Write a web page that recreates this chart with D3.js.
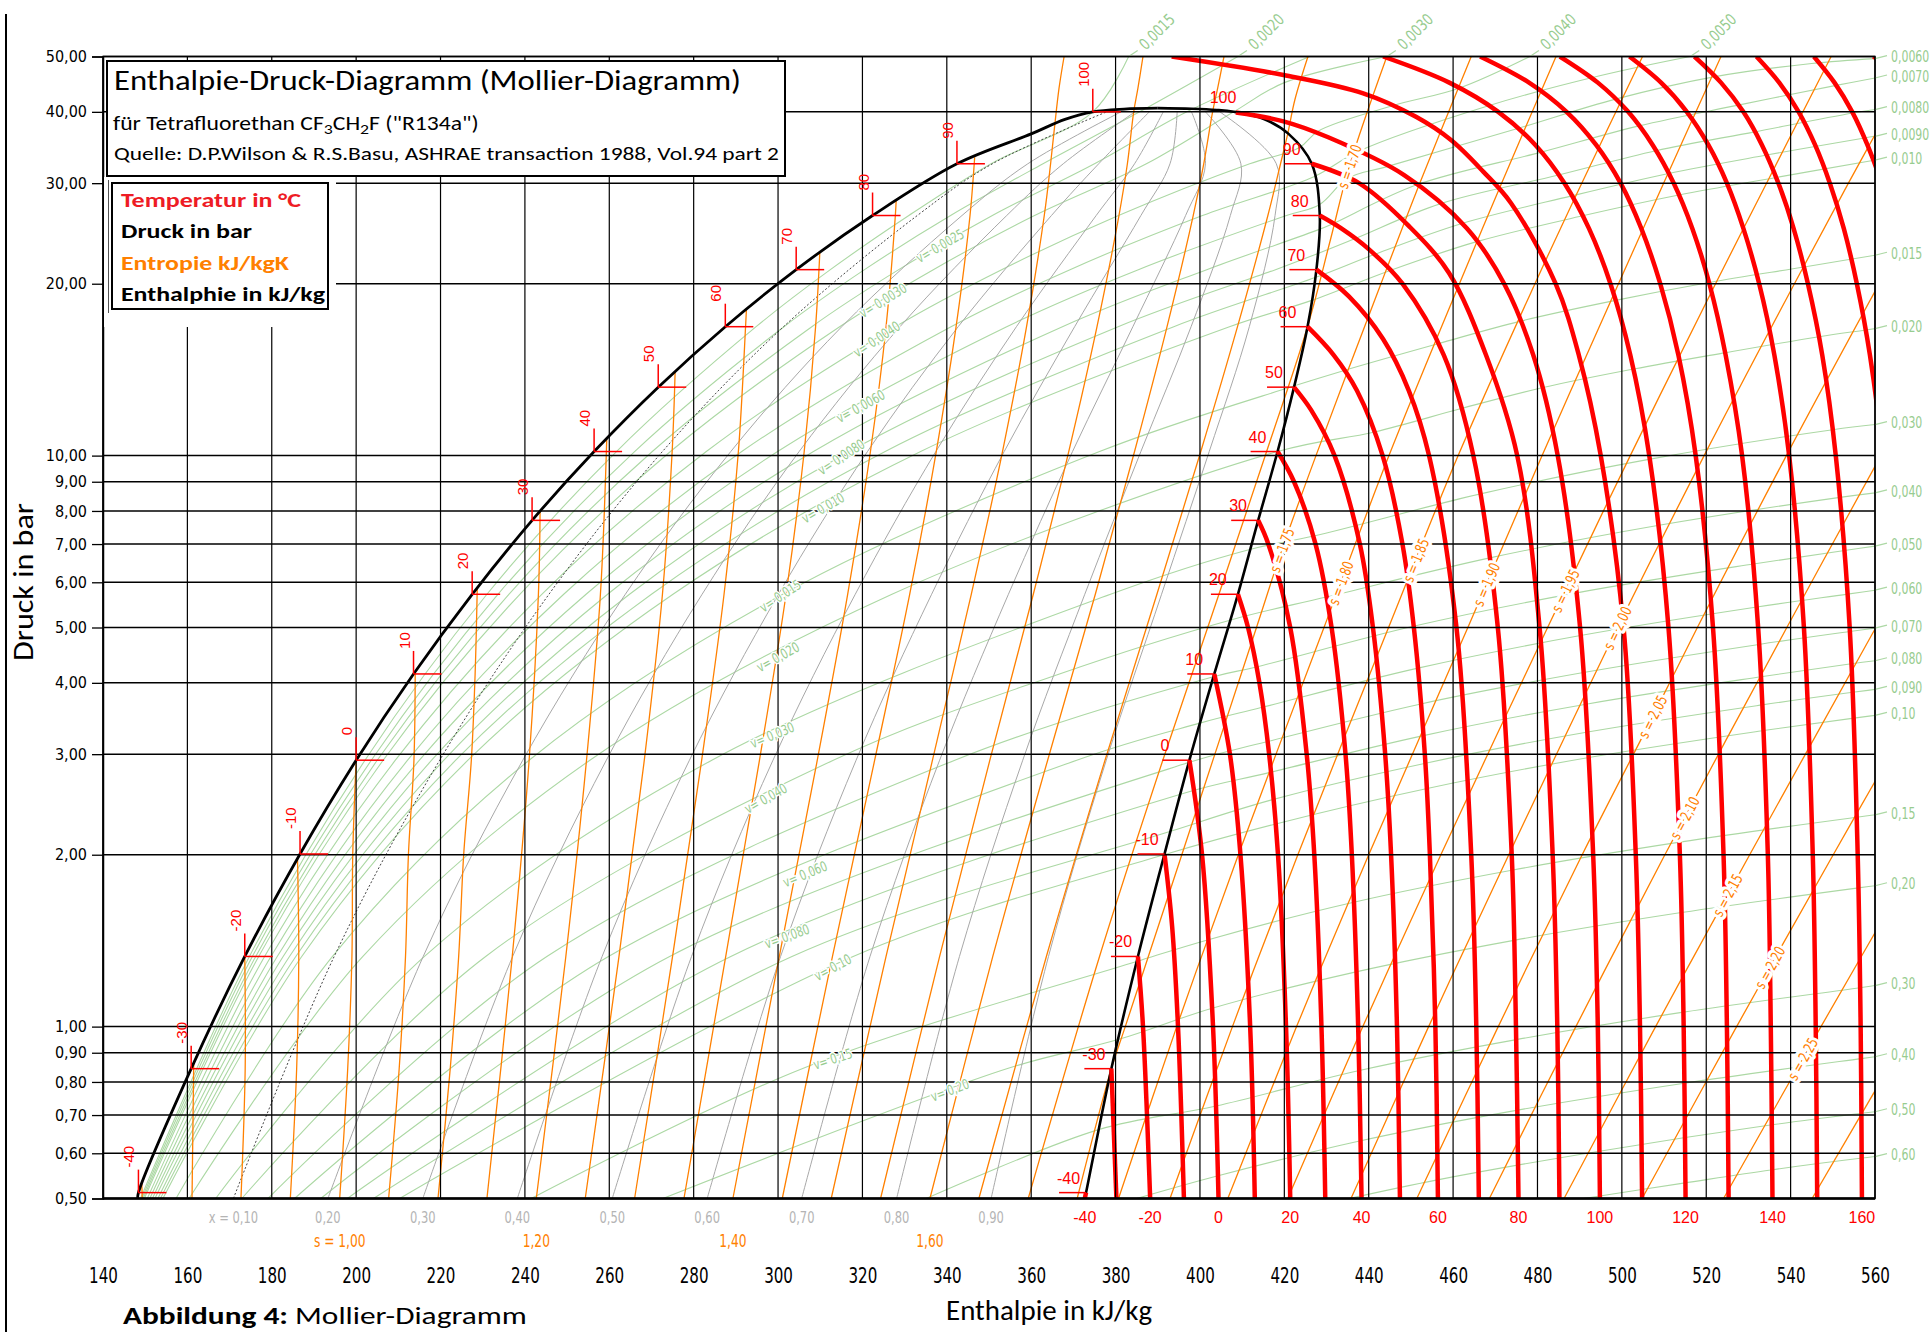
<!DOCTYPE html>
<html><head><meta charset="utf-8">
<script src="https://cdn.jsdelivr.net/npm/d3@7"></script>
<style>html,body{margin:0;padding:0;background:#fff}svg{display:block}</style>
</head><body>
<svg id="c" width="1931" height="1332"></svg>
<script>
// ---------------- DATA ----------------
const hTicks = [140,160,180,200,220,240,260,280,300,320,340,360,380,400,420,440,460,480,500,520,540,560];
const pTicks = [0.5,0.6,0.7,0.8,0.9,1,2,3,4,5,6,7,8,9,10,20,30,40,50];

const satT = [-40,-30,-20,-10,0,10,20,30,40,50,60,70,80,90,100];
const satP = [0.512,0.844,1.327,2.006,2.928,4.146,5.717,7.702,10.166,13.179,16.818,21.168,26.332,32.442,40.0];
const liqH = [148.4,160.9,173.6,186.7,200,213.6,227.5,241.7,256.4,271.6,287.5,304.3,322.4,342.4,374.6];
const vapH = [373,379,385.3,391.6,397.5,403.4,409,413.8,418.4,422.3,425.5,427.6,428.4,426.5,408];

const liquidLine = [[148.2,0.5],[148.4,0.512],[160.9,0.844],[173.6,1.327],[186.7,2.006],[200,2.928],[213.6,4.146],[227.5,5.717],[241.7,7.702],[256.4,10.166],[271.6,13.179],[287.5,16.818],[304.3,21.168],[322.4,26.332],[342.4,32.442],[360,36.6],[368,38.8],[374.6,40.0],[382,40.45],[390,40.6]];
const vaporLine = [[390,40.6],[398,40.5],[404,40.3],[408,40.0],[415,38.9],[421,36.6],[426.5,32.442],[428.4,26.332],[427.6,21.168],[425.5,16.818],[422.3,13.179],[418.4,10.166],[413.8,7.702],[409,5.717],[403.4,4.146],[397.5,2.928],[391.6,2.006],[385.3,1.327],[379,0.844],[373,0.512],[372.7,0.5]];

// isotherms (red), [h, p]
const isoT = [-40,-30,-20,-10,0,10,20,30,40,50,60,70,80,90,100,110,120,130,140,150,160,170,180,190];
const isoTPts = [
 [[372.7,0.5],[373,0.512]],
 [[380.2,0.5],[379,0.844]],
 [[388.2,0.5],[386.5,1],[385.3,1.327]],
 [[396.2,0.5],[394.8,1],[393.4,1.5],[391.6,2.006]],
 [[404.4,0.5],[403.1,1],[400.5,2],[397.5,2.928]],
 [[413.0,0.5],[411.9,1],[409.6,2],[407.1,3],[403.4,4.146]],
 [[421.4,0.5],[420.4,1],[418.5,2],[416.4,3],[414.1,4],[411.4,5],[409.0,5.717]],
 [[429.7,0.5],[428.8,1],[427.1,2],[425.3,3],[421.4,5],[416.2,7],[413.8,7.702]],
 [[438.3,0.5],[437.5,1],[436,2],[434.5,3],[431.2,5],[427.4,7],[422.3,9],[418.4,10.166]],
 [[447.4,0.5],[446.7,1],[445.3,2],[443.9,3],[441,5],[437.9,7],[431.9,10],[426.4,12],[422.3,13.179]],
 [[456.4,0.5],[455.8,1],[454.5,2],[453.3,3],[450.7,5],[448,7],[443.3,10],[437.2,13],[431.7,15],[425.5,16.818]],
 [[466.1,0.5],[465.5,1],[464.3,2],[460.8,5],[454.3,10],[449.5,13],[443.4,16],[435.3,19],[427.6,21.168]],
 [[475.5,0.5],[474.9,1],[473.9,2],[470.6,5],[464.8,10],[457.8,15],[448,20],[440,23],[433.5,25],[428.4,26.332]],
 [[485.2,0.5],[484.7,1],[483.6,2],[480.5,5],[475.2,10],[467.8,15],[459,20.9],[449.6,25.2],[437.7,30],[426.5,32.442]],
 [[494.8,0.5],[494.3,1],[493.2,2],[490.1,5],[484.8,10],[479,15],[472.1,20],[463.3,25],[448.4,31],[430.4,36.1],[419.8,38.5],[408.5,39.9]],
 [[504.8,0.5],[504.3,1],[503.3,2],[500.4,5],[495,10],[489.8,15],[484.3,20],[473.7,27.7],[467.2,31.4],[459.5,35.7],[451.2,39.2],[438.7,43.1],[419.8,46.4],[393.3,50]],
 [[515.1,0.5],[514.65,1],[513.75,2],[511.05,5],[506.5,10],[502,15],[497.3,20],[492.2,25],[486.4,30],[479.5,35],[470.7,40],[459.1,45],[443.4,50]],
 [[525.3,0.5],[524.9,1],[524.1,2],[521.6,5],[517.5,10],[513.4,15],[509.1,20],[504.6,25],[499.7,30],[493.9,35],[486.9,40],[478,45],[466.4,50]],
 [[535.7,0.5],[535.3,1],[534.6,2],[532.3,5],[528.5,10],[524.6,15],[520.75,20],[516.7,25],[512.3,30],[507.3,35],[501.5,40],[494.3,45],[485.3,50]],
 [[546.3,0.5],[545.95,1],[545.25,2],[543.15,5],[539.65,10],[536.15,15],[532.55,20],[528.8,25],[524.9,30],[520.5,35],[515.4,40],[509.3,45],[501.8,50]],
 [[556.9,0.5],[556.6,1],[555.9,2],[554,5],[550.7,10],[547.5,15],[544.1,20],[540.7,25],[537.1,30],[533.2,35],[528.8,40],[523.5,45],[517.2,50]],
 [[567.5,0.5],[564.8,5],[561.8,10],[558.8,15],[555.7,20],[552.6,25],[549.3,30],[545.8,35],[541.9,40],[537.3,45],[531.9,50]],
 [[578.4,0.5],[567.4,20],[561.5,30],[558.2,35],[554.6,40],[550.4,45],[545.5,50]],
 [[589.5,0.5],[575,30],[566,45],[559.6,50]]
];
const isoTBottomLabels = [-40,-20,0,20,40,60,80,100,120,140,160];

// isentropes (orange), [h, p]
const isoS = [0.80,0.85,0.90,0.95,1.00,1.05,1.10,1.15,1.20,1.25,1.30,1.35,1.40,1.45,1.50,1.55,1.60,1.65,1.70,1.75,1.80,1.85,1.90,1.95,2.00,2.05,2.10,2.15,2.20,2.25,2.30];
const isoSPts = [
 [[149.2,0.53],[149.3,0.5]],
 [[161.5,0.86],[161.1,0.5]],
 [[173.6,1.327],[173.7,0.844],[172.7,0.5]],
 [[186.1,1.97],[186.4,1.327],[185.9,0.844],[184.4,0.5]],
 [[200,2.928],[199.2,2.006],[199.0,1.327],[198.0,0.844],[196.1,0.5]],
 [[214,4.19],[213.7,2.928],[212.4,2.006],[211.7,1.327],[210.2,0.844],[207.7,0.5]],
 [[228.7,5.85],[228.2,4.146],[227.3,2.928],[225.5,2.006],[224.3,1.327],[222.3,0.844],[219.4,0.5]],
 [[243.6,7.98],[243.2,5.717],[241.0,2.928],[237.0,1.327],[231.0,0.5]],
 [[259.4,10.7],[257.9,5.717],[254.6,2.928],[249.7,1.327],[242.7,0.5]],
 [[275.6,14.0],[274.9,10.166],[272.6,5.717],[268.3,2.928],[262.3,1.327],[254.3,0.5]],
 [[292.5,18.0],[292.3,16.818],[290.6,10.166],[287.2,5.717],[281.9,2.928],[275.0,1.327],[266.0,0.5]],
 [[309.9,22.7],[308.9,16.818],[306.2,10.166],[301.9,5.717],[295.6,2.928],[287.6,1.327],[277.7,0.5]],
 [[328.0,28.0],[327.8,26.332],[325.6,16.818],[321.9,10.166],[316.5,5.717],[309.3,2.928],[300.3,1.327],[289.3,0.5]],
 [[346.6,33.3],[346.5,32.442],[345.5,26.332],[342.2,16.818],[337.5,10.166],[331.2,5.717],[322.9,2.928],[312.9,1.327],[301.0,0.5]],
 [[367.8,50],[366.6,44],[365.6,38.0],[364.6,32.442],[363.1,26.332],[358.9,16.818],[353.2,10.166],[345.8,5.717],[336.6,2.928],[325.6,1.327],[312.6,0.5]],
 [[386.5,50],[385.3,44],[384.3,40.0],[382.8,32.442],[380.8,26.332],[375.6,16.818],[368.9,10.166],[360.5,5.717],[350.2,2.928],[338.3,1.327],[324.3,0.5]],
 [[405.7,50],[404.2,44],[403.0,40.0],[400.9,32.442],[398.4,26.332],[392.2,16.818],[384.5,10.166],[375.2,5.717],[363.9,2.928],[350.9,1.327],[336.0,0.5]],
 [[425.6,50],[422.5,42],[420.8,36.6],[419.1,32.442],[416.1,26.332],[408.9,16.818],[400.2,10.166],[389.8,5.717],[377.5,2.928],[363.6,1.327],[347.6,0.5]],
 [[444.3,50],[435.4,32.1],[431,24],[425.5,16.818],[415.8,10.166],[404.5,5.717],[391.2,2.928],[376.2,1.327],[359.3,0.5]],
 [[464.3,50],[452.1,30],[442.9,20],[427.5,10],[419.4,6.83],[413.4,5],[395.7,2],[382.3,1],[379,0.844],[370.9,0.5]],
 [[380.7,0.5],[394.5,1],[409.1,2],[429.4,5],[444.8,10],[461.5,20],[471.5,30],[484.4,50]],
 [[392.9,0.5],[407.7,1],[423.2,2],[444.7,5],[461.2,10],[479.4,20],[490.5,30],[504.9,50]],
 [[406.6,0.5],[422.9,1],[440,2],[463.5,5],[481.1,10],[499.2,20],[509.9,30],[523.5,50]],
 [[420.8,0.5],[438.6,1],[457.1,2],[482.4,5],[502,10],[522.2,20],[534.3,30],[549.6,50]],
 [[435.8,0.5],[454.2,1],[473.2,2],[499,5],[519.5,10],[540.9,20],[553.7,30],[563,40]],
 [[451.4,0.5],[470.7,1],[490.6,2],[507.3,3.49],[517.9,5],[539,10],[561,20]],
 [[468.6,0.5],[489.1,1],[510.2,2],[539.1,5],[561.4,10]],
 [[486.3,0.5],[508,1],[530.3,2],[560.2,5]],
 [[504.8,0.5],[527.2,1],[550.1,2],[563.7,3]],
 [[524.1,0.5],[547.2,1],[570.7,2]],
 [[545.1,0.5],[568.9,1]]
];
const isoSLabelP = [null,null,null,null,null,null,null,null,null,null,null,null,null,null,null,null,null,null,32.1,6.83,5.98,6.56,5.95,5.8,4.99,3.49,2.32,1.70,1.27,0.878,null];
const isoSBottomLabels = [1.00,1.20,1.40,1.60];

// isochores (green), [h, p]
const isoV = [0.0015,0.0020,0.0025,0.0030,0.0040,0.0050,0.0060,0.0070,0.0080,0.0090,0.010,0.015,0.020,0.030,0.040,0.050,0.060,0.070,0.080,0.090,0.10,0.15,0.20,0.30,0.40,0.50,0.60];
const isoVPts = [
 [[148.9,0.5],[174.7,1.327],[202.1,2.928],[231.0,5.717],[261.7,10.166],[294.8,16.818],[312.4,21.168],[331.0,26.332],[350.5,32.442],[374.6,40.0],[383.1,50]],
 [[149.2,0.5],[175.4,1.327],[203.6,2.928],[233.6,5.717],[266.0,10.166],[301.4,16.818],[320.5,21.168],[340.9,26.332],[362.8,32.442],[385.7,40.0],[409,50]],
 [[149.5,0.5],[176.2,1.327],[205.0,2.928],[236.2,5.717],[270.2,10.166],[308.0,16.818],[328.6,21.168],[350.8,26.332],[375.0,32.442],[396.9,40.0],[426,50]],
 [[149.8,0.5],[176.9,1.327],[206.4,2.928],[238.8,5.717],[274.5,10.166],[314.6,16.818],[336.8,21.168],[360.8,26.332],[387.3,32.442],[408,40.0],[420,45],[444.3,50]],
 [[150.5,0.5],[178.3,1.327],[209.3,2.928],[244.0,5.717],[283.0,10.166],[327.8,16.818],[353.0,21.168],[380.7,26.332],[411.8,32.442],[423.5,34.6],[428,37],[445.7,41],[461.4,44],[478.2,50]],
 [[151.1,0.5],[179.8,1.327],[212.2,2.928],[249.2,5.717],[291.4,10.166],[341.0,16.818],[369.2,21.168],[400.6,26.332],[427.0,30.8],[437.5,34.1],[468.4,41.0],[495,46.3],[516.2,50]],
 [[151.7,0.5],[181.3,1.327],[215.0,2.928],[254.5,5.717],[299.9,10.166],[354.2,16.818],[385.4,21.168],[420.5,26.332],[428.3,27.5],[435,30.6],[444.5,32.1],[475.3,37.4],[498.5,42.1],[522.1,46.1],[545,48.6],[560.5,49.6]],
 [[152.3,0.5],[182.7,1.327],[217.9,2.928],[259.6,5.717],[308.4,10.166],[367.4,16.818],[401.6,21.168],[428.3,24.9],[431.6,25.5],[451.4,29.8],[480.9,34.0],[504.1,37.8],[527.6,41.1],[550.8,44.5],[561,46]],
 [[153.0,0.5],[184.2,1.327],[220.8,2.928],[264.8,5.717],[316.9,10.166],[380.6,16.818],[417.9,21.168],[428,22.6],[436.8,24.0],[456.9,27.6],[485,31.0],[508.1,34.2],[531.5,36.9],[554.8,39.8],[566,41]],
 [[153.6,0.5],[185.7,1.327],[223.6,2.928],[270.0,5.717],[325.4,10.166],[393.8,16.818],[427.3,20.5],[441.3,22.5],[462.1,25.5],[488.1,28.5],[511.1,31.2],[534.3,33.6],[557.5,36],[568,37]],
 [[154.2,0.5],[187.1,1.327],[226.5,2.928],[275.1,5.717],[333.8,10.166],[407.0,16.818],[426.5,18.7],[445.1,21.1],[465.6,23.7],[490.7,26.3],[513.5,28.6],[536.6,30.7],[559.8,32.9],[570,33.9]],
 [[157.3,0.5],[194.4,1.327],[241.0,2.928],[301.1,5.717],[376.2,10.166],[422.4,13.25],[434.2,14.1],[456.4,15.7],[476,17.2],[498.5,18.7],[520.7,20.1],[543.2,21.4],[565.8,22.8]],
 [[160.4,0.5],[201.6,1.327],[255.4,2.928],[327.0,5.717],[418.4,10.166],[441.4,11.0],[461.9,12.09],[481.1,13.15],[502.8,14.18],[524.6,15.15],[546.7,16.15],[557.8,16.6],[569.4,17.08]],
 [[166.7,0.5],[216.2,1.327],[284.3,2.928],[378.8,5.717],[411.8,6.85],[427,7.23],[466.5,8.57],[506.7,9.86],[550,11.1],[560.8,11.35]],
 [[172.9,0.5],[230.7,1.327],[313.1,2.928],[366.7,4.146],[407.1,5.15],[430.2,5.66],[468.7,6.62],[508.8,7.55],[551.7,8.45],[562.5,8.65]],
 [[179.1,0.5],[245.2,1.327],[341.9,2.928],[403.2,4.1],[413.1,4.26],[450.3,5.02],[489.3,5.75],[531.2,6.46],[552.8,6.82],[563.5,7.0]],
 [[185.4,0.5],[259.8,1.327],[370.8,2.928],[400.0,3.4],[414.5,3.62],[451.4,4.24],[490.2,4.84],[532.0,5.43],[553.5,5.72],[564.1,5.87]],
 [[191.6,0.5],[274.3,1.327],[397.3,2.9],[415.6,3.15],[452.1,3.67],[490.9,4.17],[532.5,4.67],[554.0,4.92],[564.6,5.04]],
 [[197.9,0.5],[288.8,1.327],[395.2,2.55],[416.4,2.785],[452.7,3.23],[491.5,3.67],[533.0,4.1],[554.4,4.32],[565,4.42]],
 [[204.1,0.5],[303.3,1.327],[393.2,2.2],[417.0,2.495],[453.2,2.89],[491.9,3.28],[533.3,3.66],[554.7,3.85],[565.3,3.94]],
 [[210.3,0.5],[317.8,1.327],[391.5,2.0],[417.5,2.26],[453.6,2.61],[492.2,2.96],[533.6,3.30],[555.0,3.47],[565.6,3.55]],
 [[241.5,0.5],[305.7,0.844],[385.0,1.30],[402.0,1.42],[436.2,1.65],[473.9,1.879],[513.7,2.104],[555.7,2.327],[566.2,2.38]],
 [[272.7,0.5],[354.2,0.844],[380.8,0.95],[402.9,1.077],[437.0,1.247],[474.4,1.416],[514.1,1.584],[556.1,1.75],[566.6,1.79]],
 [[335.1,0.5],[376.0,0.66],[403.8,0.726],[437.8,0.838],[475.0,0.949],[514.6,1.06],[556.4,1.17],[567,1.2]],
 [[385.0,0.5],[404.3,0.548],[438.1,0.631],[475.3,0.714],[514.8,0.796],[556.7,0.879],[567.2,0.9]],
 [[435.4,0.5],[456.3,0.539],[494.7,0.605],[535.6,0.673],[556.8,0.705],[567.4,0.72]],
 [[490.9,0.5],[514.6,0.532],[535.3,0.561],[556.5,0.588],[567.1,0.60]]
];
const isoVLabelP = [null,null,23.3,18.7,16.0,null,12.2,null,9.95,null,8.1,5.68,4.44,3.24,2.51,null,1.85,null,1.44,null,1.27,0.878,0.774,null,null,null,null];
const isoVTopLabel = [true,true,false,true,true,true];

// quality lines (grey)
const qualX = [0.1,0.2,0.3,0.4,0.5,0.6,0.7,0.8,0.9];
const qualP = [0.5,1.327,2.928,5.717,10.166,16.818,26.332,32.442,40.0];
const qualH = [
 [170.9,194.8,219.8,245.7,272.6,301.3,333.0,350.8,377.9],
 [193.3,215.9,239.5,263.8,288.8,315.1,343.6,359.2,381.3],
 [215.8,237.1,259.3,282.0,305.0,328.9,354.2,367.6,384.6],
 [238.2,258.3,279.0,300.1,321.2,342.7,364.8,376.0,388.0],
 [260.7,279.5,298.8,318.3,337.4,356.5,375.4,384.5,391.3],
 [283.2,300.6,318.5,336.4,353.6,370.3,386.0,392.9,394.6],
 [305.6,321.8,338.3,354.6,369.8,384.1,396.6,401.3,398.0],
 [328.1,343.0,358.0,372.7,386.0,397.9,407.2,409.7,401.3],
 [350.5,364.1,377.8,390.9,402.2,411.7,417.8,418.1,404.7]
];

// ---------------- DRAW ----------------
const FN = "'Liberation Sans Narrow','Arial Narrow','DejaVu Sans Condensed','DejaVu Sans',sans-serif";
const FA = "'Liberation Sans',Arial,sans-serif";
const FV = "'DejaVu Sans Condensed','DejaVu Sans',sans-serif";
const FC = "Carlito,Lato,'Open Sans',sans-serif";
const RED = "#ff0000", ORANGE = "#ff8000", GREEN = "#acd8a4", GREENT = "#97cc8f", GREY = "#a8a8a8";
const NS = 0.8; // horizontal squeeze for narrow labels

const svg = d3.select("#c");
const X = d3.scaleLinear().domain([140,560]).range([103,1875]);
const Y = d3.scaleLog().domain([0.5,50]).range([1198.5,56.5]);
const line = d3.line().x(d=>X(d[0])).y(d=>Y(d[1])).curve(d3.curveCatmullRom.alpha(0.5));
const fv = v => v.toFixed(v<0.00999?4:(v<0.0999?3:2)).replace('.',',');

svg.append("defs").append("clipPath").attr("id","plot")
  .append("rect").attr("x",X(140)).attr("y",Y(50)).attr("width",X(560)-X(140)).attr("height",Y(0.5)-Y(50));

function T(g, x, y, s, o={}) {
  const t = g.append("text").attr("x",x).attr("y",y).text(s)
    .attr("font-family", o.ff||FA).attr("font-size", o.fs||16).attr("fill", o.fill||"#000");
  if (o.anchor) t.attr("text-anchor",o.anchor);
  if (o.fw) t.attr("font-weight",o.fw);
  if (o.len) t.attr("textLength",o.len).attr("lengthAdjust","spacingAndGlyphs");
  if (o.db) t.attr("dominant-baseline",o.db);
  if (o.halo) t.attr("stroke","#fff").attr("stroke-width",o.halo).attr("paint-order","stroke").attr("stroke-linejoin","round");
  let tr = o.tr || null;
  if (o.sx) { tr = (tr || `translate(${x},${y})`) + ` scale(${o.sx},1)`; t.attr("x",0).attr("y",0); }
  if (tr) t.attr("transform",tr);
  return t;
}
function fitWidth(t, x, y, target) {
  const w = t.node().getComputedTextLength();
  if (w>0) t.attr("x",0).attr("y",0).attr("transform",`translate(${x},${y}) scale(${target/w},1)`);
}
function pointAt(pts, p) {
  for (let i=0;i<pts.length-1;i++){
    const a=pts[i], b=pts[i+1];
    if ((p-a[1])*(p-b[1])<=0 && a[1]!==b[1]) {
      const t=(Math.log(p)-Math.log(a[1]))/(Math.log(b[1])-Math.log(a[1]));
      const h=a[0]+t*(b[0]-a[0]);
      let ang=Math.atan2(Y(b[1])-Y(a[1]), X(b[0])-X(a[0]))*180/Math.PI;
      if (ang>90) ang-=180; if (ang<-90) ang+=180;
      return {x:X(h), y:Y(p), ang};
    }
  }
  return null;
}
function exitRight(pts) {
  for (let i=0;i<pts.length-1;i++){
    const a=pts[i], b=pts[i+1];
    if ((a[0]-560)*(b[0]-560)<=0 && a[0]!==b[0]) {
      const t=(560-a[0])/(b[0]-a[0]);
      return Math.exp(Math.log(a[1])+t*(Math.log(b[1])-Math.log(a[1])));
    }
  }
  return null;
}

// page frame line
svg.append("line").attr("x1",6).attr("x2",6).attr("y1",14).attr("y2",1332).attr("stroke","#000").attr("stroke-width",2);

const plot = svg.append("g").attr("clip-path","url(#plot)");

// isochores
plot.append("g").selectAll("path").data(isoVPts).join("path")
  .attr("d",line).attr("fill","none").attr("stroke",GREEN).attr("stroke-width",1.1);
// quality lines
plot.append("g").selectAll("path").data(qualH.map(hs=>hs.map((h,i)=>[h,qualP[i]]))).join("path")
  .attr("d",line).attr("fill","none").attr("stroke",(d,i)=>i===0?"#444":GREY)
  .attr("stroke-width",1).attr("stroke-dasharray",(d,i)=>i===0?"2,2":null);
// isentropes
plot.append("g").selectAll("path").data(isoSPts).join("path")
  .attr("d",line).attr("fill","none").attr("stroke",ORANGE).attr("stroke-width",1.3);

// grid
const grid = svg.append("g").attr("stroke","#000");
grid.selectAll(".v").data(hTicks).join("line").attr("class","v")
  .attr("x1",d=>X(d)).attr("x2",d=>X(d)).attr("y1",Y(50)).attr("y2",Y(0.5)).attr("stroke-width",1.2);
grid.selectAll(".h").data(pTicks).join("line").attr("class","h")
  .attr("x1",X(140)).attr("x2",X(560)).attr("y1",d=>Y(d)).attr("y2",d=>Y(d)).attr("stroke-width",1.5);
svg.append("line").attr("x1",X(140)).attr("x2",X(560)).attr("y1",Y(0.5)).attr("y2",Y(0.5)).attr("stroke","#000").attr("stroke-width",2.5);

// saturation dome
plot.append("path").attr("d",line(liquidLine)).attr("fill","none").attr("stroke","#000").attr("stroke-width",2.8);
plot.append("path").attr("d",line(vaporLine)).attr("fill","none").attr("stroke","#000").attr("stroke-width",2.6);

// isotherms
plot.append("g").selectAll("path").data(isoTPts).join("path")
  .attr("d",line).attr("fill","none").attr("stroke",RED).attr("stroke-width",4.5);

// isentrope labels
const labs = svg.append("g");
isoS.forEach((s,i)=>{
  if (isoSLabelP[i]==null) return;
  const pt = pointAt(isoSPts[i], isoSLabelP[i]); if(!pt) return;
  T(labs,0,0,"s = "+s.toFixed(2).replace('.',','),{ff:FN,fs:15,fill:ORANGE,anchor:"middle",db:"central",halo:7,
    tr:`translate(${pt.x},${pt.y}) rotate(${pt.ang}) scale(${NS},1)`});
});
// isochore labels inside
isoV.forEach((v,i)=>{
  if (isoVLabelP[i]==null) return;
  const pt = pointAt(isoVPts[i], isoVLabelP[i]); if(!pt) return;
  T(labs,0,0,"v= "+fv(v),{ff:FN,fs:14,fill:GREENT,anchor:"middle",db:"central",halo:3,
    tr:`translate(${pt.x},${pt.y}) rotate(${pt.ang}) scale(${NS},1)`});
});
// isochore labels outside (right / top)
isoV.forEach((v,i)=>{
  const pts = isoVPts[i];
  const pr = exitRight(pts);
  if (pr!=null) {
    const yy = Y(Math.min(pr,50));
    labs.append("line").attr("x1",X(560)).attr("y1",yy).attr("x2",X(560)+12).attr("y2",yy-3).attr("stroke",GREEN).attr("stroke-width",1.2);
    T(labs,X(560)+16,yy-2,fv(v),{ff:FN,fs:16,fill:GREENT,db:"central",sx:0.76});
  } else if (isoVTopLabel[i]) {
    const last = pts[pts.length-1];
    const xx = X(last[0]);
    labs.append("line").attr("x1",xx).attr("y1",Y(50)).attr("x2",xx+9).attr("y2",Y(50)-6).attr("stroke",GREEN).attr("stroke-width",1.2);
    T(labs,0,0,fv(v),{ff:FN,fs:16,fill:GREENT,db:"central",tr:`translate(${xx+13},${Y(50)-10}) rotate(-45) scale(0.85,1)`});
  }
});

// saturation temperature markers
const mk = svg.append("g");
satT.forEach((t,i)=>{
  const xl = X(liqH[i]), yl = Y(satP[i]);
  mk.append("line").attr("x1",xl).attr("x2",xl).attr("y1",yl).attr("y2",yl-23).attr("stroke",RED).attr("stroke-width",1.5);
  mk.append("line").attr("x1",xl).attr("x2",xl+28).attr("y1",yl).attr("y2",yl).attr("stroke",RED).attr("stroke-width",1.5);
  T(mk,0,0,String(t),{ff:FA,fs:15,fill:RED,tr:`translate(${xl-4},${yl-25}) rotate(-90)`});
  const xv = X(vapH[i]), yv = Y(satP[i]);
  if (t<100) mk.append("line").attr("x1",xv-27).attr("x2",xv).attr("y1",yv).attr("y2",yv).attr("stroke",RED).attr("stroke-width",1.5);
  T(mk,xv-(t<100?29:24),yv-9,String(t),{ff:FA,fs:16,fill:RED});
});

// border
svg.append("rect").attr("x",X(140)).attr("y",Y(50)).attr("width",X(560)-X(140)).attr("height",Y(0.5)-Y(50))
  .attr("fill","none").attr("stroke","#000").attr("stroke-width",1.5);

// y axis
const ya = svg.append("g").attr("transform",`translate(${X(140)},0)`)
  .call(d3.axisLeft(Y).tickValues(pTicks).tickFormat(d=>d.toFixed(2).replace('.',',')).tickSize(11).tickPadding(5));
ya.select(".domain").attr("stroke","#000").attr("stroke-width",1.5);
ya.selectAll(".tick line").attr("stroke","#000").attr("stroke-width",1.3);
ya.selectAll("text").attr("font-family",FV).attr("font-size",16).attr("fill","#000").style("font-stretch","condensed");

// x axis
const xa = svg.append("g").attr("transform",`translate(0,${Y(0.5)})`)
  .call(d3.axisBottom(X).tickValues(hTicks).tickSize(0).tickPadding(70));
xa.select(".domain").remove();
xa.selectAll("text").attr("font-family",FN).attr("font-size",21).attr("fill","#000").attr("transform",`scale(${NS},1)`);

// bottom labels: temperatures, qualities, entropies
const bl = svg.append("g");
isoTBottomLabels.forEach(t=>{
  const i = isoT.indexOf(t);
  T(bl,X(isoTPts[i][0][0]),1223,String(t),{ff:FA,fs:16,fill:RED,anchor:"middle"});
});
qualX.forEach((q,i)=>{
  T(bl,X(qualH[i][0]),1223,(i===0?"x = ":"")+q.toFixed(2).replace('.',','),{ff:FN,fs:16,fill:"#b4b4b4",anchor:"middle",sx:NS});
});
isoSBottomLabels.forEach((s,k)=>{
  const i = isoS.findIndex(v=>Math.abs(v-s)<1e-9);
  const pts = isoSPts[i];
  T(bl,X(pts[pts.length-1][0]),1247,(k===0?"s = ":"")+s.toFixed(2).replace('.',','),{ff:FN,fs:17,fill:ORANGE,anchor:"middle",sx:NS});
});

// axis titles
T(svg,1049,1320,"Enthalpie in kJ/kg",{ff:FC,fs:28,anchor:"middle",len:206});
T(svg,0,0,"Druck in bar",{ff:FC,fs:28,anchor:"middle",len:158,tr:"translate(33,582) rotate(-90)"});
const ab = svg.append("text").attr("x",123).attr("y",1324).attr("font-family",FC).attr("font-size",24).attr("fill","#000");
ab.append("tspan").attr("font-weight","900").text("Abbildung 4:");
ab.append("tspan").text(" Mollier-Diagramm");
fitWidth(ab,123,1324,404);

// title box
svg.append("rect").attr("x",107).attr("y",61).attr("width",678).attr("height",115).attr("fill","#fff").attr("stroke","#000").attr("stroke-width",2);
T(svg,114,90,"Enthalpie-Druck-Diagramm (Mollier-Diagramm)",{ff:FC,fs:28,len:627});
const st = svg.append("text").attr("x",113).attr("y",130).attr("font-family",FC).attr("font-size",20).attr("fill","#000");
st.append("tspan").text("für Tetrafluorethan CF");
st.append("tspan").attr("dy",4).attr("font-size",15).text("3");
st.append("tspan").attr("dy",-4).text("CH");
st.append("tspan").attr("dy",4).attr("font-size",15).text("2");
st.append("tspan").attr("dy",-4).text("F (\"R134a\")");
fitWidth(st,113,130,366);
T(svg,114,160,"Quelle: D.P.Wilson & R.S.Basu, ASHRAE transaction 1988, Vol.94 part 2",{ff:FC,fs:19,len:665});

// legend box
svg.append("rect").attr("x",104).attr("y",177).attr("width",232).attr("height",150).attr("fill","#fff");
svg.append("line").attr("x1",108.5).attr("x2",108.5).attr("y1",180).attr("y2",313).attr("stroke","#555").attr("stroke-width",1);
svg.append("rect").attr("x",112).attr("y",183).attr("width",216).attr("height",126).attr("fill","#fff").attr("stroke","#000").attr("stroke-width",2);
T(svg,121,207,"Temperatur in °C",{ff:FC,fs:20,fw:"bold",fill:"#ee1c25",len:180});
T(svg,121,238,"Druck in bar",{ff:FC,fs:20,fw:"bold",len:131});
T(svg,121,270,"Entropie kJ/kgK",{ff:FC,fs:20,fw:"bold",fill:ORANGE,len:168});
T(svg,121,301,"Enthalphie in kJ/kg",{ff:FC,fs:20,fw:"bold",len:204});
</script>
</body></html>
